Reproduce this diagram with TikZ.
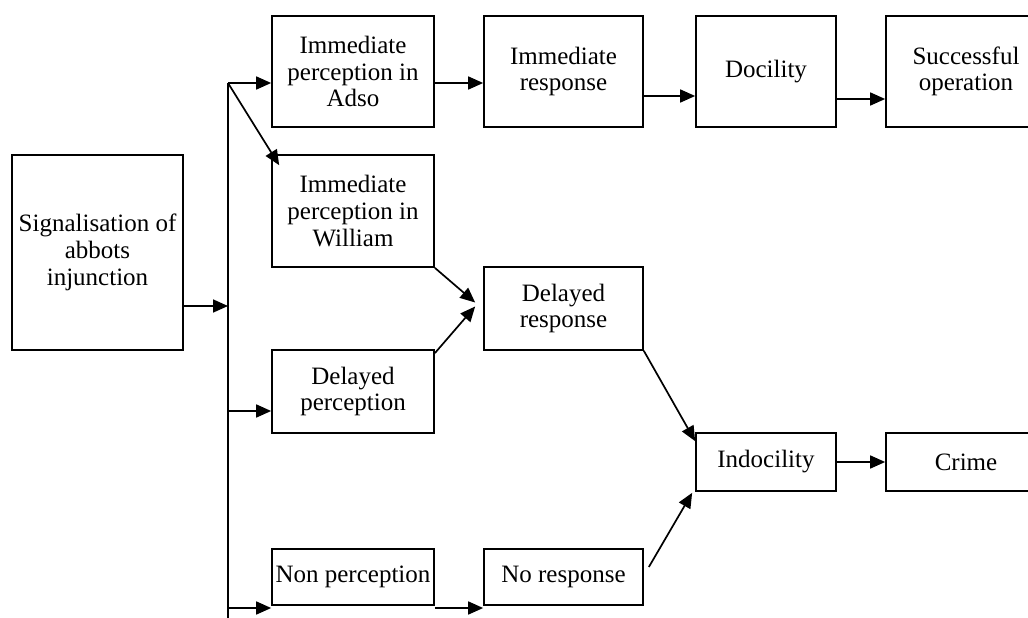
\documentclass[tikz,border=0pt]{standalone}
\usepackage{fontspec}
\setmainfont{Liberation Serif}
\usetikzlibrary{arrows.meta}

\begin{document}
\begin{tikzpicture}[x=1pt,y=-1pt,line width=1.7pt,
    box/.style={draw,inner sep=0pt,align=center,font=\fontsize{25}{26.7}\selectfont},
    link/.style={-{Triangle[length=15pt,width=13pt]}}]
    \useasboundingbox (0,0) rectangle (1028,618);
    \clip (0,0) rectangle (1028,618);
    \node[box,minimum width=171,minimum height=195](sig)at(97.5,252.5){Signalisation of\\abbots\\injunction};
    \node[box,minimum width=162,minimum height=111](adso)at(353,71.5){Immediate\\perception in\\Adso};
    \node[box,minimum width=162,minimum height=112](will)at(353,211){Immediate\\perception in\\William};
    \node[box,minimum width=162,minimum height=83](delperc)at(353,391.5){Delayed\\perception};
    \node[box,minimum width=162,minimum height=56](nonperc)at(353,577){Non perception};
    \node[box,minimum width=159,minimum height=111](imresp)at(563.5,71.5){Immediate\\response};
    \node[box,minimum width=159,minimum height=83](delresp)at(563.5,308.5){Delayed\\response};
    \node[box,minimum width=159,minimum height=56](noresp)at(563.5,577){No response};
    \node[box,minimum width=140,minimum height=111](docil)at(766,71.5){Docility};
    \node[box,minimum width=140,minimum height=58](indoc)at(766,462){Indocility};
    \node[box,minimum width=160,minimum height=111](succ)at(966,71.5){Successful\\operation};
    \node[box,minimum width=160,minimum height=58](crime)at(966,462){Crime};
    \coordinate(fork)at(228,83);
    \coordinate(forkend)at(228,618);
    \draw(fork)--(forkend);
    \draw[link](sig.east |- 0,306)--(fork |- 0,306);
    \draw[link](fork)--(adso.west |- fork);
    \draw[link](fork)--([shift={(8,11)}]will.north west);
    \draw[link](fork |- 0,411)--(delperc.west |- 0,411);
    \draw[link](forkend |- 0,608)--(nonperc.west |- 0,608);
    \draw[link](adso.east |- fork)--(imresp.west |- fork);
    \draw[link](imresp.east |- 0,96)--(docil.west |- 0,96);
    \draw[link](docil.east |- 0,99)--(succ.west |- 0,99);
    \draw[link](will.south east)--([shift={(-8,-6)}]delresp.west);
    \draw[link]([shift={(0,4)}]delperc.north east)--([shift={(-8,-2)}]delresp.west);
    \draw[link](delresp.south east)--([shift={(0,9)}]indoc.north west);
    \draw[link]([shift={(5,-10)}]noresp.east)--([shift={(-3,1)}]indoc.south west);
    \draw[link](indoc)--(crime);
    \draw[link](nonperc.east |- 0,608)--(noresp.west |- 0,608);
\end{tikzpicture}
\end{document}
